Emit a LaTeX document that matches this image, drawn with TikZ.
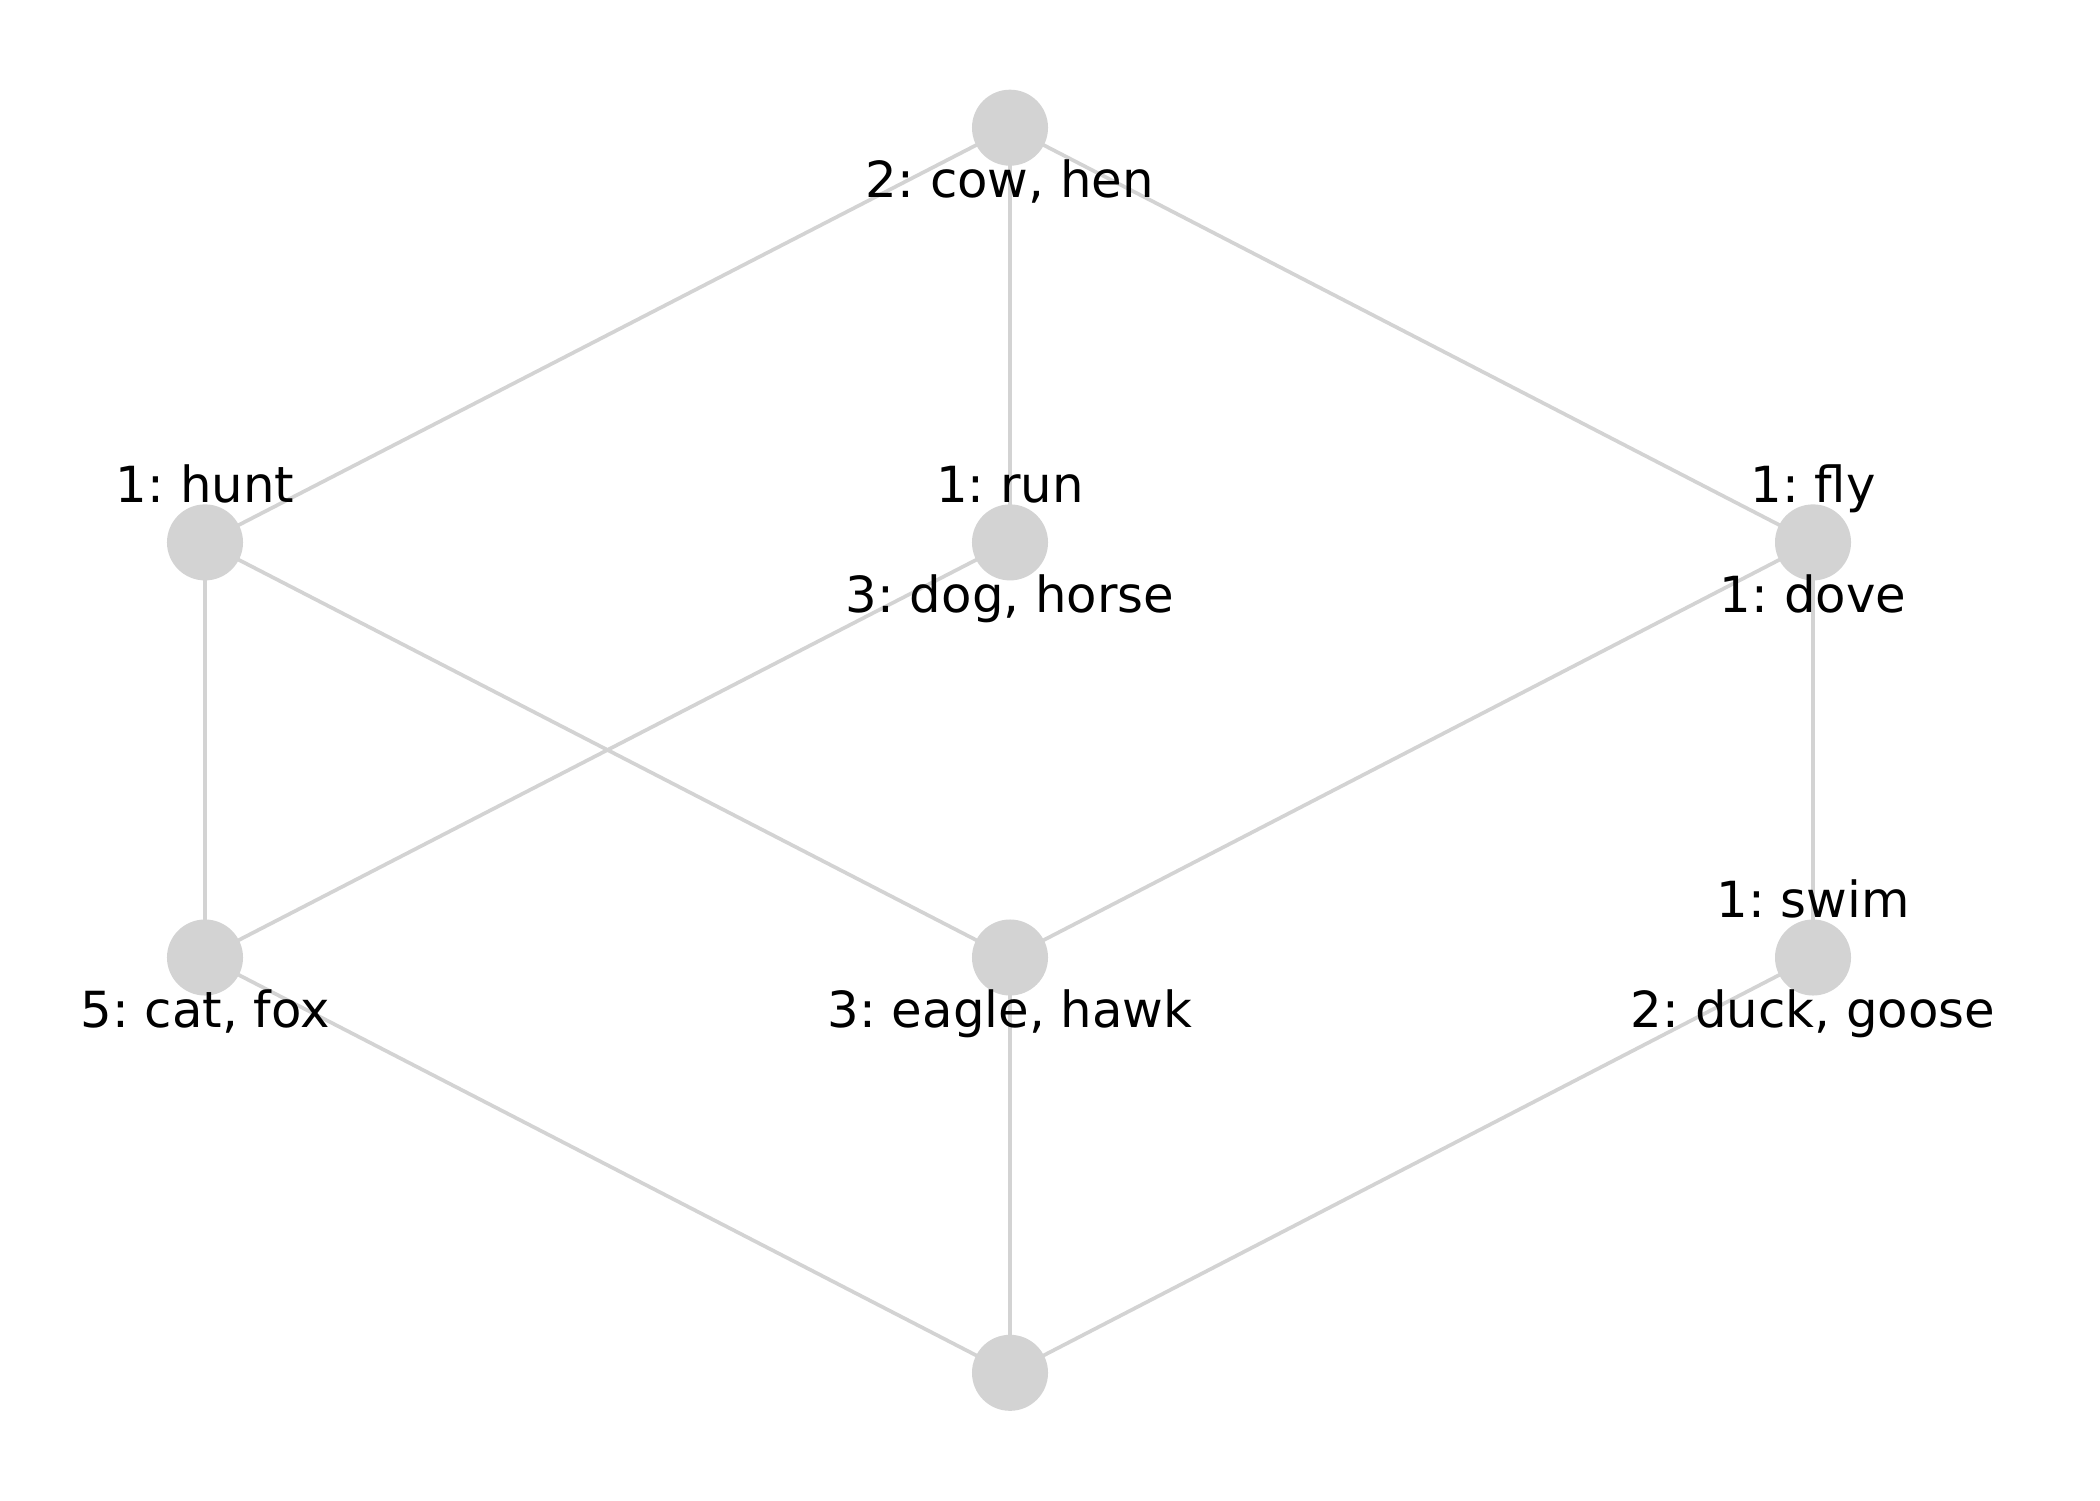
\documentclass[tikz,border=0pt]{standalone}
\usepackage{fontspec}
\setmainfont{DejaVu Sans}
\frenchspacing
\definecolor{lg}{HTML}{D3D3D3}
\begin{document}
\begin{tikzpicture}[x=0.01cm,y=-0.01cm,
  vtx/.style={circle,fill=lg,draw=none,minimum size=0.76cm,inner sep=0pt},
  edge/.style={draw=lg,line width=1.05pt},
  lab/.style={anchor=base,inner sep=0pt,font=\fontsize{14.15}{16}\selectfont\frenchspacing,text=black}]
\useasboundingbox (0,0) rectangle (2100,1500);
\coordinate (pt) at (1010,127.7);
\coordinate (phunt) at (205,542.4);
\coordinate (prun) at (1010,542.4);
\coordinate (pfly) at (1813,542.4);
\coordinate (pcat) at (205,957.5);
\coordinate (peagle) at (1010,957.5);
\coordinate (pswim) at (1813,957.5);
\coordinate (pbot) at (1010,1372.8);
% edges
\draw[edge] (pt) -- (phunt);
\draw[edge] (pt) -- (prun);
\draw[edge] (pt) -- (pfly);
\draw[edge] (phunt) -- (pcat);
\draw[edge] (phunt) -- (peagle);
\draw[edge] (prun) -- (pcat);
\draw[edge] (pfly) -- (peagle);
\draw[edge] (pfly) -- (pswim);
\draw[edge] (pcat) -- (pbot);
\draw[edge] (peagle) -- (pbot);
\draw[edge] (pswim) -- (pbot);
% vertices
\node[vtx] (top) at (pt) {};
\node[vtx] (hunt) at (phunt) {};
\node[vtx] (run) at (prun) {};
\node[vtx] (fly) at (pfly) {};
\node[vtx] (cat) at (pcat) {};
\node[vtx] (eagle) at (peagle) {};
\node[vtx] (swim) at (pswim) {};
\node[vtx] (bot) at (pbot) {};
% labels
\node[lab] (ltop) at ([yshift=-0.70cm]top.center) {2: cow, hen};
\node[lab] (lhunt) at ([yshift=0.40cm]hunt.center) {1: hunt};
\node[lab] (lrun) at ([yshift=0.40cm]run.center) {1: run};
\node[lab] (lrunb) at ([yshift=-0.70cm]run.center) {3: dog, horse};
\node[lab] (lfly) at ([yshift=0.40cm]fly.center) {1: fly};
\node[lab] (lflyb) at ([yshift=-0.70cm]fly.center) {1: dove};
\node[lab] (lcat) at ([yshift=-0.70cm]cat.center) {5: cat, fox};
\node[lab] (leagle) at ([yshift=-0.70cm]eagle.center) {3: eagle, hawk};
\node[lab] (lswim) at ([yshift=0.40cm]swim.center) {1: swim};
\node[lab] (lswimb) at ([yshift=-0.70cm]swim.center) {2: duck, goose};
\end{tikzpicture}
\end{document}
